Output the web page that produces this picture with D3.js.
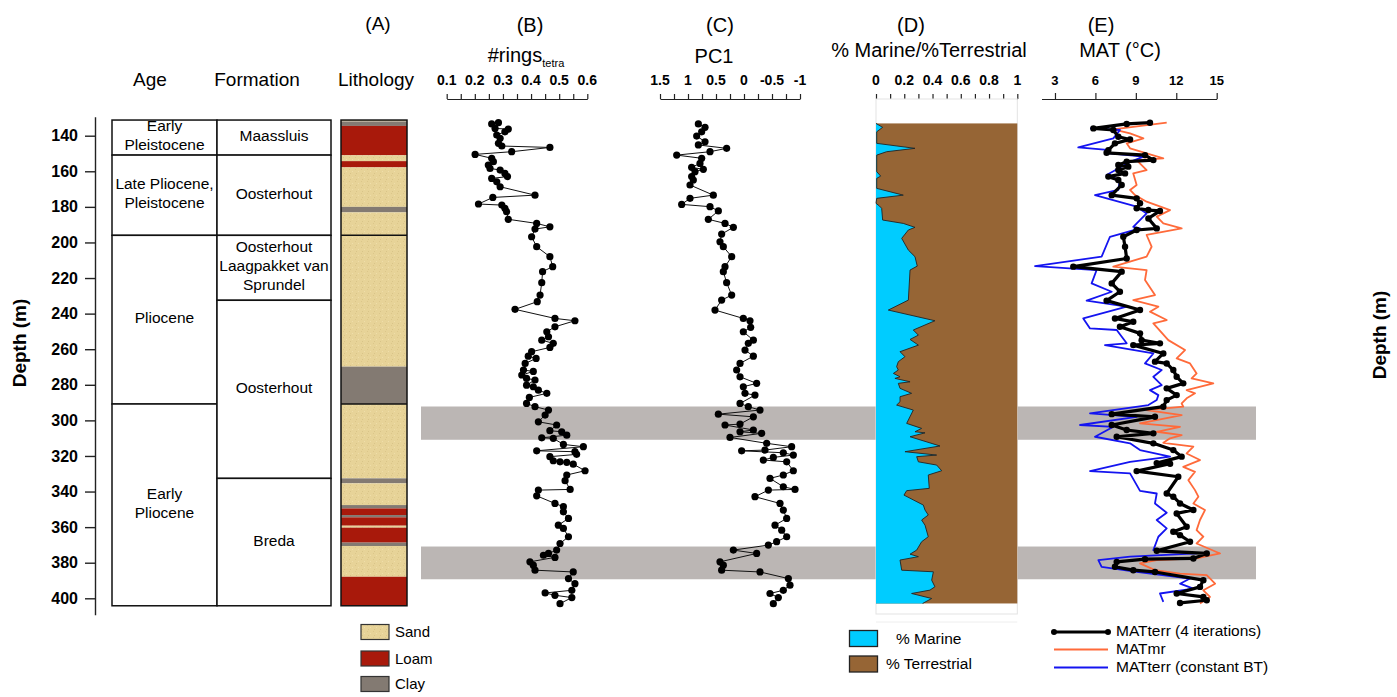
<!DOCTYPE html>
<html><head><meta charset="utf-8">
<script src="https://cdn.jsdelivr.net/npm/d3@7"></script>
<style>
body{margin:0;background:#fff;}
svg{display:block;}
text{font-family:"Liberation Sans", Arial, Helvetica, sans-serif;fill:#000;}
</style>
</head><body>
<svg id="c" width="1397" height="697"></svg>
<script>
// ---------------- DATA ----------------
const depthTicks = [140,160,180,200,220,240,260,280,300,320,340,360,380,400];

const ageNames = [["Early","Pleistocene"],["Late Pliocene,","Pleistocene"],["Pliocene"],["Early","Pliocene"]];
const ageTop =    [131.2, 150.9, 196.0, 290.8];
const ageBottom = [150.9, 196.0, 290.8, 404.2];

const formationNames = [["Maassluis"],["Oosterhout"],["Oosterhout","Laagpakket van","Sprundel"],["Oosterhout"],["Breda"]];
const formationTop =    [131.2, 150.9, 196.0, 232.5, 332.6];
const formationBottom = [150.9, 196.0, 232.5, 332.6, 404.2];

const lithType =   ["Sand","Clay","Loam","Sand","Loam","Sand","Clay","Sand","Clay","Sand","Clay","Sand","Clay","Loam","Clay","Loam","Sand","Loam","Clay","Sand","Loam"];
const lithTop =    [131.2,132.0,134.5,151.0,154.3,157.8,180.0,183.1,269.8,290.8,332.6,335.4,347.6,349.5,353.2,354.5,359.2,360.3,368.7,370.6,387.9];
const lithBottom = [132.0,134.5,151.0,154.3,157.8,180.0,183.1,269.8,290.8,332.6,335.4,347.6,349.5,353.2,354.5,359.2,360.3,368.7,370.6,387.9,404.2];
const lithLines = [196.0, 290.8];
const lithLegend = ["Sand","Loam","Clay"];

const bandTop = [292.2, 370.9];
const bandBottom = [310.9, 389.3];

const ringsTicksMajor = [0.1,0.2,0.3,0.4,0.5,0.6];
const ringsTicksMinor = [0.1,0.15,0.2,0.25,0.3,0.35,0.4,0.45,0.5,0.55,0.6];
const ringsData = [[132.7,0.284],[133.4,0.260],[135.9,0.272],[136.3,0.319],[137.8,0.307],[139.6,0.278],[141.5,0.290],[144.3,0.284],[145.8,0.296],[146.6,0.467],[149.0,0.331],[150.5,0.201],[152.7,0.260],[154.6,0.266],[156.5,0.248],[158.4,0.254],[159.3,0.290],[161.2,0.307],[163.0,0.316],[164.0,0.260],[165.9,0.278],[168.7,0.290],[173.4,0.414],[174.7,0.264],[178.4,0.213],[179.0,0.296],[180.8,0.307],[182.7,0.313],[187.0,0.319],[189.3,0.420],[191.2,0.467],[192.5,0.414],[196.8,0.402],[202.4,0.420],[208.0,0.467],[213.6,0.477],[216.4,0.441],[222.6,0.438],[229.6,0.432],[233.3,0.422],[237.6,0.343],[242.7,0.485],[244.0,0.556],[247.4,0.485],[250.2,0.456],[253.0,0.462],[254.9,0.438],[256.7,0.479],[259.0,0.467],[261.4,0.402],[263.9,0.390],[265.2,0.418],[268.0,0.379],[271.7,0.373],[272.5,0.408],[274.5,0.367],[276.4,0.384],[277.3,0.414],[280.2,0.384],[281.1,0.408],[283.0,0.426],[284.8,0.456],[287.1,0.394],[290.5,0.384],[292.3,0.414],[294.2,0.462],[297.0,0.450],[300.8,0.426],[302.6,0.491],[305.8,0.467],[306.4,0.509],[308.3,0.527],[309.8,0.438],[310.1,0.479],[313.5,0.515],[314.8,0.586],[317.1,0.420],[317.6,0.556],[319.1,0.562],[320.4,0.467],[322.7,0.479],[323.3,0.503],[323.6,0.527],[324.6,0.550],[328.3,0.592],[330.7,0.527],[333.9,0.521],[338.8,0.539],[339.2,0.426],[342.4,0.420],[346.7,0.485],[348.5,0.515],[351.4,0.515],[355.1,0.533],[358.9,0.497],[360.7,0.515],[365.4,0.533],[369.2,0.503],[372.9,0.491],[374.8,0.462],[375.8,0.444],[377.0,0.485],[379.5,0.396],[381.4,0.408],[384.2,0.414],[385.2,0.550],[388.9,0.533],[391.8,0.556],[395.5,0.545],[397.0,0.450],[398.3,0.485],[399.6,0.545],[403.0,0.503]];

const pcTicksMajor = [1.5,1,0.5,0,-0.5,-1];
const pcTickLabels = ["1.5","1","0.5","0","-0.5","-1"];
const pcTicksMinor = [1.5,1.25,1,0.75,0.5,0.25,0,-0.25,-0.5,-0.75,-1];
const pcData = [[133.4,0.815],[135.3,0.696],[137.8,0.756],[140.2,0.845],[143.4,0.696],[145.2,0.815],[147.1,0.310],[149.0,0.607],[150.9,1.202],[152.7,0.756],[155.6,0.786],[157.8,0.935],[158.9,0.726],[160.2,0.875],[163.0,0.935],[164.9,0.905],[167.7,0.964],[173.4,0.548],[175.2,0.964],[178.6,1.113],[179.9,0.607],[182.3,0.458],[187.0,0.637],[189.3,0.339],[191.5,0.190],[195.3,0.399],[199.6,0.429],[202.4,0.369],[208.0,0.220],[213.6,0.339],[216.4,0.369],[222.6,0.310],[229.6,0.220],[232.4,0.399],[238.0,0.518],[242.7,0.012],[244.0,-0.107],[247.7,-0.119],[250.2,0.012],[254.9,-0.167],[256.7,-0.077],[260.5,-0.018],[263.9,-0.167],[268.0,0.071],[271.7,0.131],[275.5,0.071],[279.2,-0.226],[281.1,0.012],[284.8,-0.018],[285.8,-0.196],[290.5,0.071],[292.3,-0.077],[294.2,-0.286],[296.5,0.458],[298.0,-0.167],[302.1,0.071],[302.6,0.339],[305.4,-0.167],[306.4,0.071],[307.3,-0.315],[309.6,0.250],[312.9,-0.405],[314.8,-0.851],[316.7,-0.375],[317.1,0.042],[318.2,-0.702],[319.5,-0.881],[320.8,-0.524],[322.3,-0.345],[323.3,-0.762],[328.3,-0.881],[330.7,-0.702],[332.6,-0.464],[337.3,-0.702],[338.8,-0.911],[339.2,-0.435],[342.9,-0.196],[346.7,-0.643],[350.4,-0.702],[355.1,-0.762],[358.9,-0.554],[361.7,-0.673],[365.4,-0.762],[368.2,-0.583],[370.1,-0.435],[372.9,0.190],[374.8,-0.226],[379.5,0.429],[381.4,0.369],[384.2,0.399],[385.2,-0.286],[388.9,-0.792],[392.6,-0.821],[395.5,-0.702],[397.3,-0.464],[399.6,-0.613],[403.0,-0.524]];

const marTicksMajor = [0,0.2,0.4,0.6,0.8,1];
const marTickLabels = ["0","0.2","0.4","0.6","0.8","1"];
const marTicksMinor = [0,0.1,0.2,0.3,0.4,0.5,0.6,0.7,0.8,0.9,1];
const marineData = [[133.1,0.0],[135.3,0.047],[137.8,0.005],[144.3,0.005],[147.1,0.276],[149.0,0.075],[150.9,0.005],[160.2,0.005],[162.7,0.033],[164.0,0.005],[169.6,0.005],[173.4,0.193],[175.2,0.005],[178.0,0.0],[179.5,0.024],[180.8,0.040],[187.4,0.047],[189.3,0.193],[191.5,0.276],[193.0,0.229],[197.7,0.182],[204.3,0.229],[208.0,0.276],[213.3,0.292],[215.5,0.241],[232.4,0.229],[238.0,0.087],[244.0,0.417],[249.2,0.264],[252.1,0.300],[254.5,0.241],[257.7,0.300],[261.4,0.170],[264.2,0.205],[267.0,0.158],[269.8,0.146],[271.7,0.158],[273.6,0.123],[275.5,0.170],[276.4,0.134],[278.3,0.241],[279.2,0.158],[282.0,0.170],[284.8,0.252],[286.7,0.170],[289.5,0.170],[291.4,0.146],[294.2,0.264],[301.7,0.217],[304.5,0.323],[306.4,0.276],[307.0,0.347],[309.2,0.241],[314.4,0.453],[317.6,0.205],[319.5,0.429],[320.4,0.288],[323.3,0.300],[325.1,0.429],[328.3,0.465],[330.7,0.370],[338.2,0.377],[339.5,0.217],[342.0,0.198],[347.6,0.335],[350.4,0.347],[353.2,0.370],[356.0,0.323],[358.9,0.347],[365.4,0.370],[368.2,0.323],[372.9,0.288],[375.2,0.241],[376.6,0.300],[378.5,0.170],[384.2,0.182],[385.1,0.406],[389.8,0.394],[393.5,0.417],[395.4,0.382],[397.3,0.252],[400.1,0.394],[402.9,0.330]];
const marLegend = ["% Marine","% Terrestrial"];

const matTicks = [3,6,9,12,15];
const matTerr4 = [[132.7,10.05],[133.4,8.32],[135.9,5.85],[136.8,7.33],[140.6,7.70],[142.1,8.57],[144.3,7.45],[148.1,6.96],[149.6,6.83],[150.9,9.68],[153.7,10.30],[154.6,8.32],[156.5,7.70],[157.4,8.44],[159.3,7.70],[161.2,8.20],[163.0,6.96],[164.9,7.70],[167.7,7.95],[173.4,7.21],[175.2,9.06],[178.0,9.31],[180.8,9.06],[181.8,9.93],[182.3,10.79],[186.5,9.93],[192.1,10.55],[193.0,9.06],[196.8,8.07],[202.4,8.20],[209.0,8.32],[213.6,4.36],[216.4,7.95],[223.0,7.21],[227.7,7.82],[232.7,6.83],[238.0,9.31],[242.7,7.45],[244.6,8.81],[247.4,7.82],[251.1,9.31],[254.9,9.43],[256.7,10.79],[257.7,8.81],[262.4,11.04],[267.0,10.42],[268.0,11.29],[271.7,11.78],[275.5,12.03],[279.2,12.52],[282.0,11.29],[285.8,12.03],[288.6,11.29],[292.3,11.04],[296.5,7.21],[298.0,10.42],[302.6,7.21],[305.4,8.32],[307.3,10.30],[309.2,7.58],[312.9,10.30],[316.7,11.78],[320.4,12.40],[324.0,10.55],[324.4,11.54],[328.5,9.06],[331.7,12.15],[341.1,11.29],[342.9,11.78],[346.7,12.28],[350.4,13.27],[352.3,12.03],[359.8,12.77],[362.6,11.78],[364.5,12.28],[368.2,13.02],[373.3,10.55],[374.8,14.26],[377.6,13.27],[378.0,9.68],[379.5,7.58],[382.3,7.45],[384.2,8.81],[385.2,10.42],[389.8,14.01],[393.6,13.76],[397.3,12.03],[399.2,14.01],[401.1,14.26],[402.6,12.28]];
const matMr = [[132.7,11.29],[136.4,7.33],[138.7,8.57],[141.5,9.56],[144.3,8.32],[147.1,8.57],[152.7,11.04],[153.7,9.06],[159.3,9.80],[161.2,8.81],[167.7,9.06],[170.5,8.57],[173.4,8.94],[177.1,9.80],[181.8,11.54],[185.5,10.55],[189.3,11.04],[192.1,12.40],[195.8,9.80],[202.4,10.17],[208.0,9.80],[213.6,7.33],[215.5,9.80],[221.1,9.68],[229.6,10.42],[232.4,8.81],[236.1,10.67],[238.9,10.05],[243.6,11.29],[245.5,10.30],[254.9,11.41],[260.5,12.65],[265.2,12.03],[268.0,13.02],[273.6,13.51],[276.4,13.14],[279.2,14.75],[283.0,12.77],[284.8,13.39],[287.6,12.77],[290.5,12.40],[292.3,12.52],[294.2,9.80],[297.0,12.40],[301.7,9.31],[303.6,12.28],[306.4,10.55],[308.3,12.40],[310.1,11.54],[312.6,11.04],[314.8,13.27],[318.6,12.77],[322.3,13.76],[326.1,12.52],[328.9,13.39],[333.6,12.90],[339.2,13.39],[342.9,13.64],[346.7,13.27],[350.4,14.13],[356.0,13.76],[361.7,13.51],[365.4,14.01],[369.2,13.51],[374.8,15.25],[377.6,13.51],[378.5,10.55],[380.4,9.31],[384.2,10.42],[386.1,12.28],[387.0,14.26],[391.8,14.88],[395.5,14.01],[399.2,14.50],[402.9,13.76]];
const matTerrBT = [[135.9,5.60],[136.8,7.82],[141.5,7.33],[146.6,4.73],[148.1,7.08],[149.6,6.71],[151.8,9.56],[155.6,8.32],[158.4,7.70],[162.1,6.83],[164.9,7.82],[170.5,7.70],[173.4,5.97],[179.9,9.06],[183.7,9.80],[191.2,8.81],[192.1,9.31],[196.8,7.08],[208.0,6.46],[213.3,1.52],[215.5,6.09],[223.0,5.72],[227.7,7.21],[232.7,5.35],[236.1,8.32],[242.7,5.10],[248.3,5.60],[249.2,7.58],[256.7,8.32],[257.7,6.71],[262.4,10.30],[268.0,9.68],[271.7,10.92],[275.5,10.30],[280.2,10.92],[283.0,10.05],[285.8,10.67],[288.6,10.55],[291.4,9.93],[296.1,5.60],[298.0,9.06],[302.6,4.86],[303.6,7.33],[309.2,5.97],[312.9,8.57],[316.7,9.31],[320.4,11.54],[323.3,8.57],[328.5,5.60],[329.8,8.57],[339.6,9.31],[341.1,10.55],[346.7,10.42],[351.9,11.29],[356.0,10.55],[360.7,11.29],[365.4,10.67],[372.9,10.30],[374.8,13.51],[376.6,8.57],[378.5,6.22],[382.3,6.46],[385.2,9.06],[388.9,13.02],[391.8,12.28],[394.6,13.27],[397.3,10.79],[402.0,11.04]];
const matLegend = ["MATterr (4 iterations)","MATmr","MATterr (constant BT)"];

// ---------------- DRAW ----------------
const svg = d3.select('#c');
const lithColor = {Sand:'#e7d398', Loam:'#a8190b', Clay:'#837a72'};
const y = d3.scaleLinear().domain([140,400]).range([135.7,598.3]);
const xB = d3.scaleLinear().domain([0.1,0.6]).range([446.7,587.3]);
const xC = d3.scaleLinear().domain([1.5,-1]).range([660,800]);
const xD = d3.scaleLinear().domain([0,1]).range([876,1017.3]);
const xE = d3.scaleLinear().domain([2,15]).range([1041.5,1216.7]);

// sand texture
const defs = svg.append('defs');
const pat = defs.append('pattern').attr('id','sandPat').attr('width',6).attr('height',6).attr('patternUnits','userSpaceOnUse');
pat.append('rect').attr('width',6).attr('height',6).attr('fill',lithColor.Sand);
pat.append('rect').attr('x',1).attr('y',1).attr('width',1).attr('height',1).attr('fill','#dcc68a');
pat.append('rect').attr('x',4).attr('y',3).attr('width',1).attr('height',1).attr('fill','#efdeaa');
pat.append('rect').attr('x',2).attr('y',5).attr('width',1).attr('height',1).attr('fill','#d9c488');
const fillOf = t => t==='Sand' ? 'url(#sandPat)' : lithColor[t];

// grey bands
svg.append('g').selectAll('rect').data(bandTop.map((t,i)=>[t,bandBottom[i]])).join('rect')
  .attr('x',421).attr('width',1256-421)
  .attr('y',d=>y(d[0])).attr('height',d=>y(d[1])-y(d[0]))
  .attr('fill','#bbb6b4');

// Depth axis (left)
const yAxisScale = d3.scaleLinear().domain([129.3,409.3]).range([y(129.3),y(409.3)]);
const gY = svg.append('g').attr('transform','translate(95,0)')
  .call(d3.axisLeft(yAxisScale).tickValues(depthTicks).tickSize(10).tickSizeOuter(0).tickPadding(7).tickFormat(d3.format('d')));
gY.select('.domain').attr('stroke','#222').attr('stroke-width',1.4);
gY.selectAll('.tick line').attr('stroke','#222').attr('stroke-width',1.4);
gY.selectAll('.tick text').attr('font-size',16).attr('font-weight','bold').attr('fill','#000')
  .style('font-family','"Liberation Sans", Arial, sans-serif');
svg.append('text').attr('transform','translate(26,343) rotate(-90)').attr('text-anchor','middle')
  .attr('font-size',19).attr('font-weight','bold').text('Depth (m)');
svg.append('text').attr('transform','translate(1386,335) rotate(-90)').attr('text-anchor','middle')
  .attr('font-size',19).attr('font-weight','bold').text('Depth (m)');

// headers
const hdr = (x,yy,t,fs)=>svg.append('text').attr('x',x).attr('y',yy).attr('text-anchor','middle').attr('font-size',fs).text(t);
hdr(150,86,'Age',19); hdr(257,86,'Formation',19); hdr(376,86,'Lithology',19);
hdr(378,30,'(A)',19); hdr(530,32,'(B)',20); hdr(720,32,'(C)',20); hdr(911,32,'(D)',20); hdr(1101,32,'(E)',20);
const tB = svg.append('text').attr('x',526).attr('y',62).attr('text-anchor','middle').attr('font-size',20);
tB.append('tspan').text('#rings');
tB.append('tspan').attr('font-size',11).attr('dy',5).text('tetra');
hdr(714,63,'PC1',20);
hdr(929,57,'% Marine/%Terrestrial',20);
hdr(1120,57,'MAT (°C)',20);

// Age / Formation table
function table(x0,x1,names,tops,bottoms){
  const g = svg.append('g');
  names.forEach((nm,i)=>{
    g.append('rect').attr('x',x0).attr('width',x1-x0).attr('y',y(tops[i])).attr('height',y(bottoms[i])-y(tops[i]))
      .attr('fill','#fff').attr('stroke','#111').attr('stroke-width',1.5);
    const mid = (y(tops[i])+y(bottoms[i]))/2 - 2;
    nm.forEach((line,j)=>{
      g.append('text').attr('x',(x0+x1)/2).attr('y',mid + (j-(nm.length-1)/2)*19)
        .attr('dy','0.35em').attr('text-anchor','middle').attr('font-size',15.5).text(line);
    });
  });
}
table(112,217,ageNames,ageTop,ageBottom);
table(217,331,formationNames,formationTop,formationBottom);

// Lithology column
const gL = svg.append('g');
gL.selectAll('rect').data(lithType.map((t,i)=>({t,top:lithTop[i],bot:lithBottom[i]}))).join('rect')
  .attr('x',341).attr('width',66).attr('y',d=>y(d.top)).attr('height',d=>y(d.bot)-y(d.top))
  .attr('fill',d=>fillOf(d.t));
gL.selectAll('line').data(lithLines).join('line').attr('x1',341).attr('x2',407)
  .attr('y1',d=>y(d)).attr('y2',d=>y(d)).attr('stroke','#111').attr('stroke-width',1.5);
gL.append('rect').attr('x',341).attr('width',66).attr('y',y(lithTop[0])).attr('height',y(lithBottom[lithBottom.length-1])-y(lithTop[0]))
  .attr('fill','none').attr('stroke','#111').attr('stroke-width',1.5);

// lithology legend
lithLegend.forEach((t,i)=>{
  const yy = [624.5,651,676.5][i];
  svg.append('rect').attr('x',361).attr('y',yy).attr('width',28).attr('height',15).attr('fill',fillOf(t)).attr('stroke','#333').attr('stroke-width',1.2);
  svg.append('text').attr('x',395).attr('y',yy+7.5).attr('dy','0.35em').attr('font-size',15).text(t);
});

// top axes
function topAxis(scale, minor, major, labels, fs){
  const g = svg.append('g').attr('transform','translate(0,99)')
    .call(d3.axisTop(scale).tickValues(minor).tickSize(5).tickSizeOuter(0).tickFormat(''));
  g.select('.domain').attr('stroke','#222').attr('stroke-width',1.2);
  g.selectAll('.tick line').attr('stroke','#222').attr('stroke-width',1.2);
  major.forEach((v,i)=>{
    svg.append('text').attr('x',scale(v)).attr('y',85).attr('text-anchor','middle')
      .attr('font-size',fs).attr('font-weight','bold').text(labels[i]);
  });
}
topAxis(xB, ringsTicksMinor, ringsTicksMajor, ringsTicksMajor.map(String), 14);
topAxis(xC, pcTicksMinor, pcTicksMajor, pcTickLabels, 14);
topAxis(xD, marTicksMinor, marTicksMajor, marTickLabels, 14);
// E axis: only major ticks, domain line extends to 2
{
  const g = svg.append('g').attr('transform','translate(0,99)')
    .call(d3.axisTop(xE).tickValues(matTicks).tickSize(6).tickSizeOuter(0).tickFormat(''));
  g.select('.domain').attr('stroke','#222').attr('stroke-width',1.2);
  g.selectAll('.tick line').attr('stroke','#222').attr('stroke-width',1.2);
  matTicks.forEach(v=>svg.append('text').attr('x',xE(v)).attr('y',85).attr('text-anchor','middle')
    .attr('font-size',13).attr('font-weight','bold').text(v));
}

// Panel B and C: line + dots
function dotLine(data, xs){
  const d = d3.sort(data, a=>a[0]);
  const g = svg.append('g');
  g.append('path').datum(d).attr('fill','none').attr('stroke','#111').attr('stroke-width',1)
    .attr('d', d3.line().x(p=>xs(p[1])).y(p=>y(p[0])));
  g.selectAll('circle').data(d).join('circle').attr('cx',p=>xs(p[1])).attr('cy',p=>y(p[0])).attr('r',3.6).attr('fill','#000');
}
dotLine(ringsData, xB);
dotLine(pcData, xC);

// Panel D
{
  const g = svg.append('g');
  g.append('rect').attr('x',xD(0)).attr('y',99).attr('width',xD(1)-xD(0)).attr('height',614-99)
    .attr('fill','#fff').attr('stroke','#e3e3e3').attr('stroke-width',1);
  g.append('line').attr('x1',xD(0)).attr('x2',xD(1)).attr('y1',622).attr('y2',622).attr('stroke','#eeeeee');
  const d = d3.sort(marineData, a=>a[0]);
  const top = d[0][0], bot = d[d.length-1][0];
  g.append('rect').attr('x',xD(0)).attr('width',xD(1)-xD(0)).attr('y',y(top)).attr('height',y(bot)-y(top)).attr('fill','#966535');
  g.append('path').datum(d).attr('fill','#00ccff')
    .attr('d', d3.area().y(p=>y(p[0])).x0(xD(0)).x1(p=>xD(p[1])));
  g.append('path').datum(d).attr('fill','none').attr('stroke','#222').attr('stroke-width',0.9)
    .attr('d', d3.line().x(p=>xD(p[1])).y(p=>y(p[0])));
}
// D legend
marLegend.forEach((t,i)=>{
  const yy = [630.5,656][i];
  svg.append('rect').attr('x',849.5).attr('y',yy).attr('width',28).attr('height',16)
    .attr('fill',i===0?'#00ccff':'#966535').attr('stroke','#222').attr('stroke-width',1.3);
  svg.append('text').attr('x',i===0?896:886).attr('y',yy+8).attr('dy','0.35em').attr('font-size',15.5).text(t);
});

// Panel E
{
  const g = svg.append('g');
  const ln = d3.line().x(p=>xE(p[1])).y(p=>y(p[0]));
  g.append('path').datum(d3.sort(matMr,a=>a[0])).attr('fill','none').attr('stroke','#ff6a3a').attr('stroke-width',1.8).attr('stroke-linejoin','round').attr('d',ln);
  g.append('path').datum(d3.sort(matTerrBT,a=>a[0])).attr('fill','none').attr('stroke','#1414f0').attr('stroke-width',1.8).attr('stroke-linejoin','round').attr('d',ln);
  const d = d3.sort(matTerr4,a=>a[0]);
  g.append('path').datum(d).attr('fill','none').attr('stroke','#000').attr('stroke-width',3.2).attr('stroke-linejoin','round').attr('d',ln);
  g.selectAll('circle').data(d).join('circle').attr('cx',p=>xE(p[1])).attr('cy',p=>y(p[0])).attr('r',3.2).attr('fill','#000');
}
// E legend
{
  const ys = [632,649.5,667.5];
  const cols = ['#000','#ff6a3a','#1414f0'];
  const ws = [3.2,2,2];
  matLegend.forEach((t,i)=>{
    svg.append('line').attr('x1',1054).attr('x2',1108).attr('y1',ys[i]).attr('y2',ys[i]).attr('stroke',cols[i]).attr('stroke-width',ws[i]);
    if(i===0){
      svg.append('circle').attr('cx',1054).attr('cy',ys[i]).attr('r',3).attr('fill','#000');
      svg.append('circle').attr('cx',1108).attr('cy',ys[i]).attr('r',3).attr('fill','#000');
    }
    svg.append('text').attr('x',1116).attr('y',ys[i]-1).attr('dy','0.35em').attr('font-size',15.5).text(t);
  });
}
</script>
</body></html>
